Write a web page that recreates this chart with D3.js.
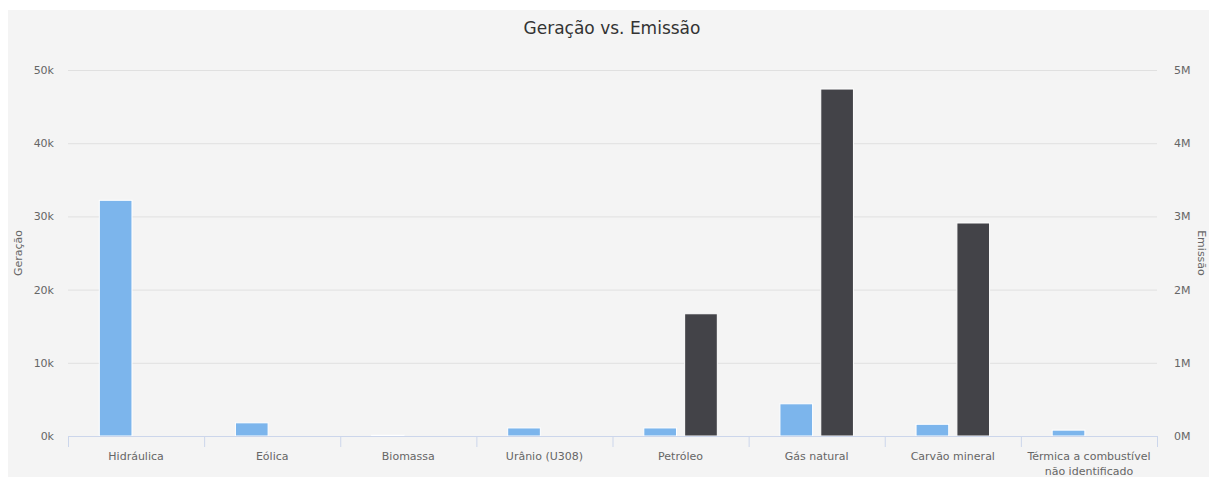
<!DOCTYPE html>
<html><head><meta charset="utf-8">
<script src="https://cdn.jsdelivr.net/npm/d3@7"></script>
<style>
html,body{margin:0;padding:0;background:#fff;}
svg{display:block;}
text{font-family:"DejaVu Sans",Verdana,sans-serif;}
</style></head><body>
<svg id="c" width="1209" height="477"></svg>
<script>
const categories = ["Hidráulica","Eólica","Biomassa","Urânio (U308)","Petróleo","Gás natural","Carvão mineral","Térmica a combustível não identificado"];
const geracao = [32200, 1800, 100, 1100, 1100, 4400, 1600, 800];
const emissao = [0, 0, 0, 0, 1670000, 4740000, 2910000, 0];
const leftTicks = [0, 10000, 20000, 30000, 40000, 50000];
const rightTicks = [0, 1000000, 2000000, 3000000, 4000000, 5000000];

const svg = d3.select("#c");
const W = 1209, H = 477;
svg.append("rect").attr("x",8).attr("y",10).attr("width",W-8).attr("height",H-10).attr("fill","#f4f4f4");

const m = {l:68, r:1157, t:70, b:436};
const x = d3.scaleBand().domain(categories).range([m.l, m.r]).paddingInner(0).paddingOuter(0);
const yL = d3.scaleLinear().domain([0,50000]).range([m.b, m.t]);
const yR = d3.scaleLinear().domain([0,5000000]).range([m.b, m.t]);

// gridlines
svg.append("g").selectAll("line").data(leftTicks).join("line")
  .attr("x1",m.l).attr("x2",m.r).attr("y1",d=>yL(d)+0.5).attr("y2",d=>yL(d)+0.5)
  .attr("stroke","#e0e0e0").attr("stroke-width",1);

// left axis labels
svg.append("g").selectAll("text").data(leftTicks).join("text")
  .attr("x",54).attr("y",d=>yL(d)+4).attr("text-anchor","end")
  .attr("font-size",11).attr("fill","#666").text(d=>(d/1000)+"k");
// right axis labels
svg.append("g").selectAll("text").data(rightTicks).join("text")
  .attr("x",1174).attr("y",d=>yR(d)+4).attr("text-anchor","start")
  .attr("font-size",11).attr("fill","#666").text(d=>(d/1000000)+"M");

// axis titles
svg.append("text").attr("transform","translate(22,253) rotate(-90)").attr("text-anchor","middle")
  .attr("font-size",11).attr("fill","#666").text("Geração");
svg.append("text").attr("transform","translate(1198,253) rotate(90)").attr("text-anchor","middle")
  .attr("font-size",11).attr("fill","#666").text("Emissão");

// title
svg.append("text").attr("x",612).attr("y",34).attr("text-anchor","middle")
  .attr("font-size",17).attr("fill","#333").text("Geração vs. Emissão");

// bars
const bw = x.bandwidth();
const grpW = bw*0.6, slot = grpW/2, barW = slot*0.8;
const g = svg.append("g");
g.selectAll("rect.gen").data(categories).join("rect").attr("class","gen")
  .attr("x",(d)=>x(d)+bw*0.2+slot*0.1)
  .attr("y",(d,i)=>yL(geracao[i]))
  .attr("width",barW)
  .attr("height",(d,i)=>m.b-yL(geracao[i]))
  .attr("fill","#7cb5ec").attr("stroke","#fff").attr("stroke-width",1);
g.selectAll("rect.emi").data(categories).join("rect").attr("class","emi")
  .attr("x",(d)=>x(d)+bw*0.2+slot+slot*0.1)
  .attr("y",(d,i)=>yR(emissao[i]))
  .attr("width",barW)
  .attr("height",(d,i)=>m.b-yR(emissao[i]))
  .attr("fill","#434348").attr("stroke","#fff").attr("stroke-width",1);

// x axis
const xa = svg.append("g");
xa.append("line").attr("x1",m.l).attr("x2",m.r).attr("y1",m.b+0.5).attr("y2",m.b+0.5).attr("stroke","#ccd6eb");
const bounds = categories.map(c=>x(c)).concat([m.r]);
xa.selectAll("line.t").data(bounds).join("line").attr("class","t")
  .attr("x1",d=>d+0.5).attr("x2",d=>d+0.5).attr("y1",m.b).attr("y2",m.b+11).attr("stroke","#ccd6eb");
categories.forEach(c=>{
  const cx = x(c)+bw/2;
  if (c.length > 20) {
    const t = xa.append("text").attr("x",cx).attr("y",460).attr("text-anchor","middle").attr("font-size",11).attr("fill","#666");
    t.append("tspan").attr("x",cx).attr("dy",0).text("Térmica a combustível");
    t.append("tspan").attr("x",cx).attr("dy",15).text("não identificado");
  } else {
    xa.append("text").attr("x",cx).attr("y",460).attr("text-anchor","middle").attr("font-size",11).attr("fill","#666").text(c);
  }
});
</script>
</body></html>
